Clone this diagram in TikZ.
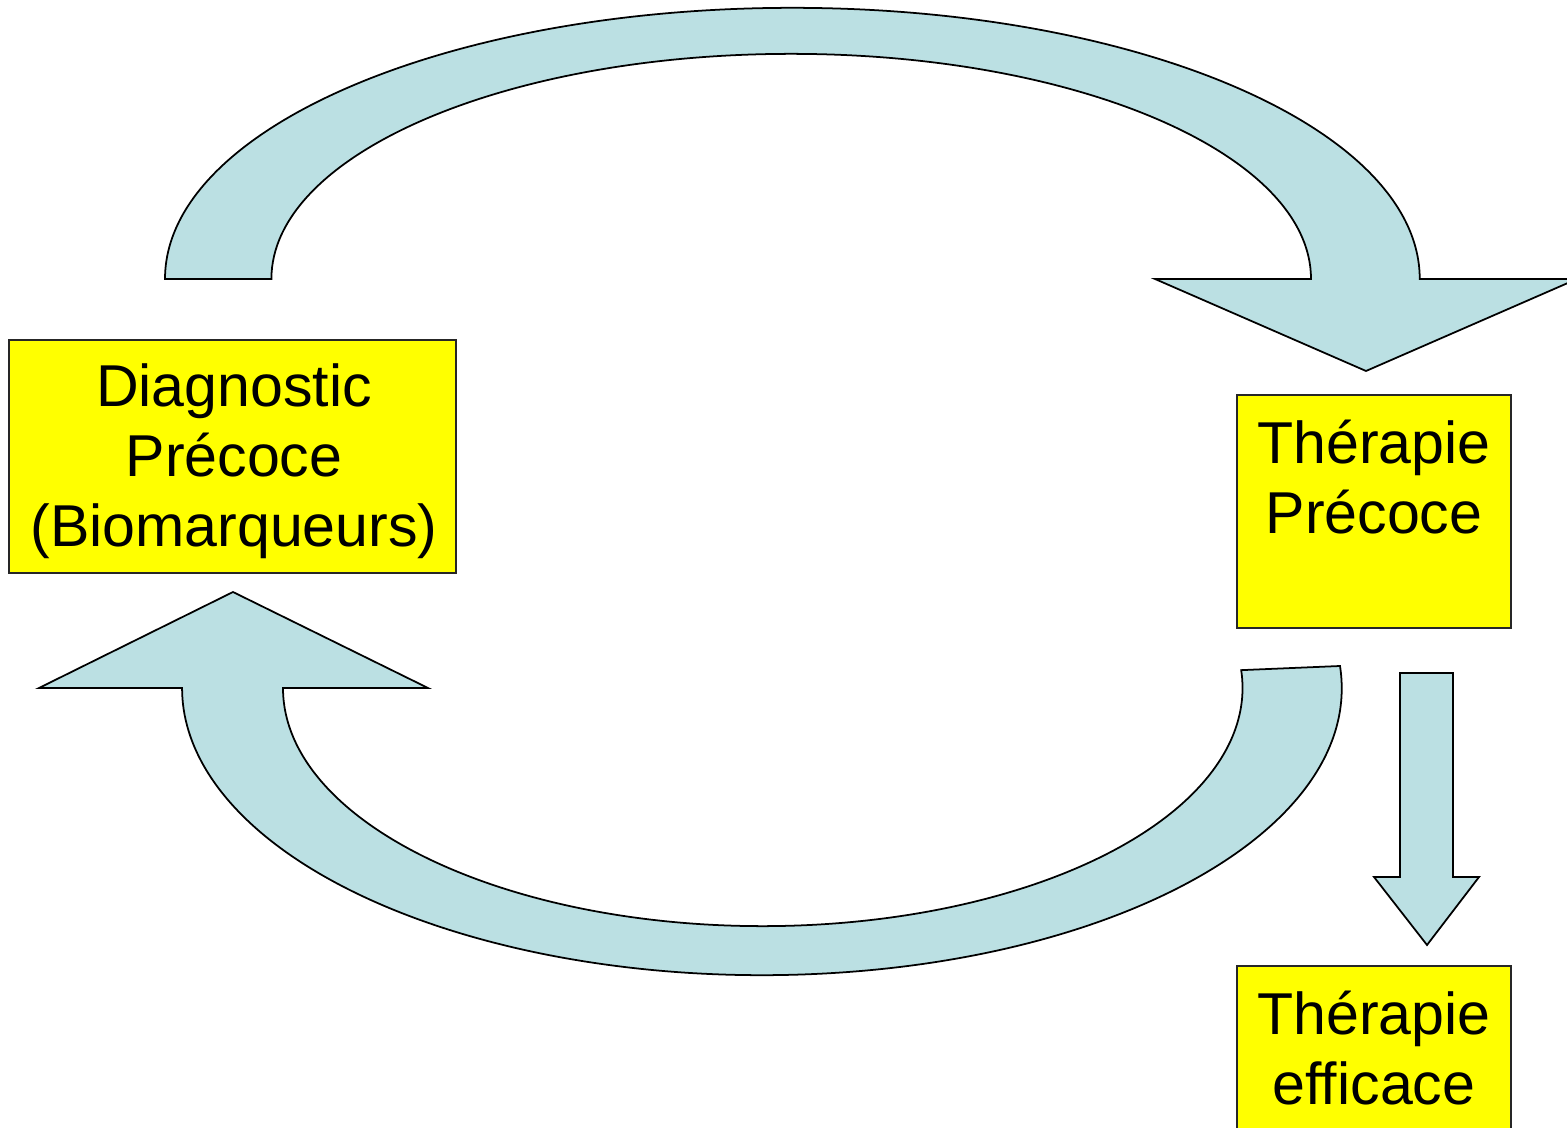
\documentclass[tikz,border=0pt]{standalone}
\usepackage{fontspec}
\setmainfont{Liberation Sans}
\usetikzlibrary{positioning}
\definecolor{arrowblue}{RGB}{187,224,227}
\definecolor{boxyellow}{RGB}{255,255,0}

\begin{document}
\begin{tikzpicture}[x=0.01cm, y=0.01cm,
  every node/.style={font=\fontsize{16.8}{19.9}\selectfont},
  box/.style={draw=black!85, line width=0.5pt, fill=boxyellow, inner sep=0pt,
    minimum height=2.33cm},
  label/.style={inner sep=0pt, align=center},
  flow/.style={draw=black, line width=0.5pt, fill=arrowblue, line join=miter}]
\useasboundingbox (0,0) rectangle (1567,1127);

% upper bow, diagnostic -> therapy
\draw[flow] (165,848) arc[start angle=180, end angle=0, x radius=6.27cm, y radius=2.71cm]
  -- (1577,848) -- (1366,756) -- (1155,848) -- (1311,848)
  arc[start angle=0, end angle=180, x radius=5.195cm, y radius=2.25cm] -- cycle;

% lower bow, back to diagnostic
\draw[flow] (283,439) arc[start angle=180, end angle=364.3, x radius=4.795cm, y radius=2.38cm]
  -- (1340,461) arc[start angle=364.4, end angle=180, x radius=5.795cm, y radius=2.87cm]
  -- (39,439) -- (233,535) -- (428,439) -- cycle;

% straight arrow down
\draw[flow] (1400,454) -- (1453,454) -- (1453,250) -- (1479,250) -- (1427,182)
  -- (1374,250) -- (1400,250) -- cycle;

\node[box, minimum width=4.47cm] (diag) at (232.5,670.5) {};
\node[label, below=0.24cm of diag.north, xshift=0.015cm] (diagt) {Diagnostic\\Précoce\\(Biomarqueurs)};
\node[box, minimum width=2.74cm] (therap) at (1374,615.5) {};
\node[label, below=0.25cm of therap.north] (therapt) {Thérapie\\Précoce};
\node[box, minimum width=2.74cm] (eff) at (1374,44.5) {};
\node[label, below=0.25cm of eff.north] (efft) {Thérapie\\efficace};
\end{tikzpicture}
\end{document}
